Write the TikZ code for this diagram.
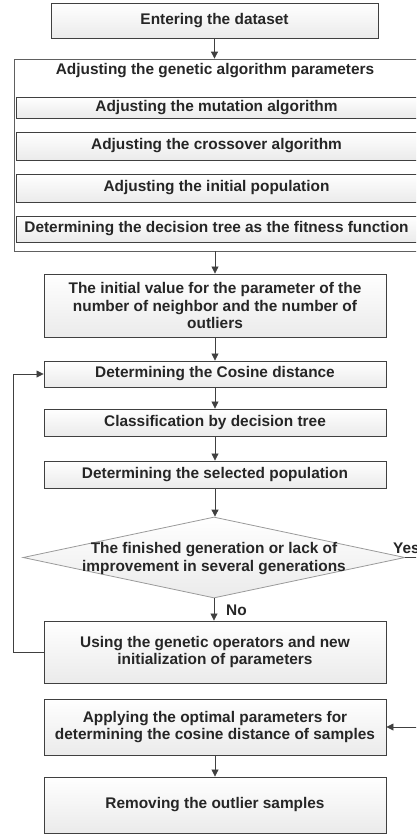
\documentclass[tikz,border=0pt]{standalone}
\usepackage{fontspec}
\setmainfont{Liberation Sans}
\usetikzlibrary{shapes.geometric,arrows.meta}
\definecolor{edgec}{HTML}{404040}
\definecolor{txtc}{HTML}{262626}
\definecolor{lightedge}{HTML}{9A9A9A}
\begin{document}
\begin{tikzpicture}[x=1pt,y=-1pt,
  font=\fontsize{15.4}{17.5}\selectfont\bfseries,
  box/.style={draw=edgec, line width=0.9pt, top color=white, bottom color=gray!16,
    text=txtc, align=center, inner sep=0pt, minimum width=342pt},
  inbox/.style={box, minimum width=401pt},
  arr/.style={draw=edgec, line width=0.8pt, -{Triangle[length=7pt,width=7pt]}},
  lbl/.style={text=txtc, inner sep=0pt}
]
\useasboundingbox (0,0) rectangle (416,836);
\clip (0,0) rectangle (416,836);

\node[box, minimum width=327pt, minimum height=35pt] (enter) at (214.5,20.5) {Entering the dataset};

\node[draw=gray!75!black, fill=white, line width=0.8pt, minimum width=405pt, minimum height=192pt, inner sep=0pt] (cont) at (216.5,155) {};
\node[lbl] (conttitle) at (215,70.5) {Adjusting the genetic algorithm parameters};
\node[inbox, minimum height=21pt] (mut) at (216.5,107.5) {Adjusting the mutation algorithm};
\node[inbox, minimum height=28pt] (cross) at (216.5,146) {Adjusting the crossover algorithm};
\node[inbox, minimum height=28pt] (init) at (216.5,188) {Adjusting the initial population};
\node[inbox, minimum height=26pt] (dt) at (216.5,229) {Determining the decision tree as the fitness function};

\node[box, minimum height=63pt] (initv) at (215,305.5) {The initial value for the parameter of the\\number of neighbor and the number of\\outliers};
\node[box, minimum height=26pt] (cos) at (215,374) {Determining the Cosine distance};
\node[box, minimum height=27pt] (cls) at (215,422.5) {Classification by decision tree};
\node[box, minimum height=27pt] (sel) at (215,474.5) {Determining the selected population};

\node[diamond, draw=lightedge, line width=0.8pt, top color=white, bottom color=gray!16,
  minimum width=382pt, minimum height=81pt, inner sep=0pt] (dec) at (214,557.5) {};
\node[lbl, align=center] (dectext) at (214,558.5) {The finished generation or lack of\\improvement in several generations};

\node[box, minimum height=62pt] (using) at (215,652) {Using the genetic operators and new\\initialization of parameters};
\node[box, minimum height=56pt] (apply) at (215,727) {Applying the optimal parameters for\\determining the cosine distance of samples};
\node[box, minimum height=56pt] (remove) at (215,805) {Removing the outlier samples};

\draw[arr] (enter.south) -- (enter.south |- cont.north);
\draw[arr] (initv.north |- cont.south) -- (initv.north);
\draw[arr] (initv.south) -- (cos.north);
\draw[arr] (cos.south) -- (cls.north);
\draw[arr] (cls.south) -- (sel.north);
\draw[arr] (sel.south) -- (sel.south |- dec.north);
\draw[arr] (dec.south) -- (dec.south |- using.north);
\node[lbl, anchor=west] (nolbl) at (226,610) {No};
\draw[arr] (using.west) -- ++(-30,0) |- (cos.west);
\draw[arr] (dec.east) -- ++(14,0) |- (apply.east);
\node[lbl, anchor=base west] (yeslbl) at (393,553) {Yes};
\draw[arr] (apply.south) -- (remove.north);
\end{tikzpicture}
\end{document}
